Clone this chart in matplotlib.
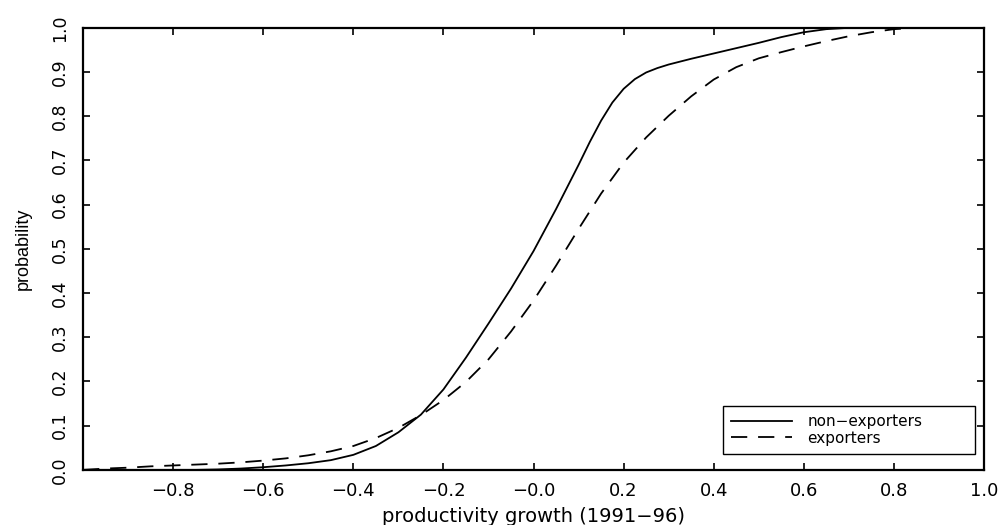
import matplotlib
matplotlib.use("Agg")
import matplotlib.pyplot as plt

# values (cumulative distributions)
non_exp_x = [-1.0, -0.8, -0.75, -0.7, -0.65, -0.6, -0.55, -0.5, -0.45, -0.4,
             -0.35, -0.3, -0.25, -0.2, -0.15, -0.1, -0.05, 0.0, 0.05, 0.1,
             0.125, 0.15, 0.175, 0.2, 0.225, 0.25, 0.275, 0.3, 0.35, 0.4,
             0.45, 0.5, 0.55, 0.6, 0.65, 0.7, 1.0]
non_exp_y = [0.0, 0.0, 0.0, 0.001, 0.003, 0.006, 0.010, 0.015, 0.022, 0.034,
             0.054, 0.085, 0.125, 0.182, 0.254, 0.331, 0.410, 0.495, 0.590, 0.690,
             0.742, 0.790, 0.831, 0.862, 0.884, 0.899, 0.909, 0.917, 0.930, 0.942,
             0.954, 0.966, 0.979, 0.990, 0.997, 1.0, 1.0]

exp_x = [-1.0, -0.95, -0.9, -0.85, -0.8, -0.75, -0.7, -0.65, -0.6, -0.55,
         -0.5, -0.45, -0.4, -0.35, -0.3, -0.25, -0.2, -0.15, -0.1, -0.05,
         0.0, 0.05, 0.1, 0.15, 0.2, 0.25, 0.3, 0.35, 0.4, 0.45,
         0.5, 0.55, 0.6, 0.65, 0.7, 0.75, 0.8, 0.85, 1.0]
exp_y = [0.0, 0.003, 0.005, 0.008, 0.010, 0.012, 0.014, 0.017, 0.021, 0.026,
         0.033, 0.042, 0.054, 0.072, 0.095, 0.124, 0.158, 0.199, 0.250, 0.313,
         0.383, 0.462, 0.545, 0.625, 0.695, 0.752, 0.801, 0.845, 0.883, 0.911,
         0.931, 0.945, 0.958, 0.970, 0.981, 0.990, 0.997, 1.0, 1.0]

x_ticks = [-0.8, -0.6, -0.4, -0.2, 0.0, 0.2, 0.4, 0.6, 0.8, 1.0]
x_labels = ["\u22120.8", "\u22120.6", "\u22120.4", "\u22120.2", "\u22120.0",
            "0.2", "0.4", "0.6", "0.8", "1.0"]
y_ticks = [0.0, 0.1, 0.2, 0.3, 0.4, 0.5, 0.6, 0.7, 0.8, 0.9, 1.0]
y_labels = ["0.0", "0.1", "0.2", "0.3", "0.4", "0.5", "0.6", "0.7", "0.8", "0.9", "1.0"]

plt.rcParams["font.family"] = ["DejaVu Sans"]

fig = plt.figure(figsize=(10.01, 5.25), dpi=100)
ax = fig.add_axes([0.083, 0.105, 0.900, 0.842])

ax.plot(non_exp_x, non_exp_y, color="black", lw=1.3, label="non\u2212exporters")
ax.plot(exp_x, exp_y, color="black", lw=1.3, dashes=(9, 6), label="exporters")

ax.set_xlim(-1.0, 1.0)
ax.set_ylim(0.0, 1.0)

ax.set_xticks(x_ticks)
ax.set_xticklabels(x_labels, fontsize=13)
ax.set_yticks(y_ticks)
ax.set_yticklabels(y_labels, fontsize=12.5, rotation=90, va="center",
                   family=["Liberation Sans Narrow", "DejaVu Sans"])

ax.tick_params(direction="in", length=5, width=1.2, top=True, right=True)
ax.tick_params(axis="x", pad=9)
ax.tick_params(axis="y", pad=10)

for s in ax.spines.values():
    s.set_linewidth(1.6)

ax.set_xlabel("productivity growth (1991\u221296)", fontsize=14, labelpad=5)
ax.set_ylabel("probability", fontsize=13, labelpad=14, family=["Liberation Sans", "DejaVu Sans"])

leg = ax.legend(loc="lower left", bbox_to_anchor=(0.710, 0.036, 0.280, 0.109),
                mode="expand", fontsize=11, handlelength=4.0, handletextpad=1.0,
                labelspacing=0.1, borderpad=0.55, borderaxespad=0,
                fancybox=False, edgecolor="black", framealpha=1)
leg.get_frame().set_linewidth(1.0)

fig.savefig("out.png", dpi=100)
